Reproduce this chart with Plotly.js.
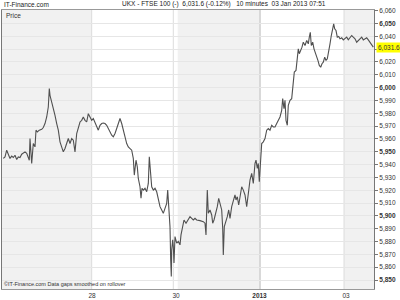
<!DOCTYPE html>
<html>
<head>
<meta charset="utf-8">
<script src="https://cdn.plot.ly/plotly-3.0.1.min.js"></script>
<style>html,body{margin:0;padding:0;background:#fff;}#chart{width:400px;height:300px;}</style>
</head>
<body>
<div id="chart"></div>
<script>
// 10-minute bars (bar position along the time axis) and price
const barIndex = [1.3,3,4.7,6.3,8,9.7,11.3,13,14.7,16.3,18,19.7,21.3,23,24.7,26.3,27.3,28,29.7,31.3,33,34,35.3,37.3,39.7,41.3,43,44.7,46.3,47.3,48,49.7,51.3,53,54.7,56.3,58,59.7,61.3,63,64.7,66.3,68,69.7,71.3,73,74.7,76.3,78,79.7,81.3,83,84.7,86.3,88,89.7,91.3,93,94.7,96.3,98,99.7,101.3,103,104.7,106.3,108,109.7,111.3,113,114.7,116.3,118,119.7,121.3,123,124.7,126.3,128,129.7,131.3,132.3,134,135.3,136.3,138,139,140,141.3,143,144.7,146.3,147.3,148.7,149.7,151.3,153,154.7,156.3,158,159.7,161.3,163,164.7,165.7,167,168,168.7,169.3,169.7,170.7,171.3,172,173,174.7,176.3,178,179,180.7,182,184,186.3,188,189.7,191.3,193,194.7,198,201.3,203,204,204.7,205.3,206.3,208,209.7,210.7,212,214,215.3,216.7,218,219.7,220.7,221.3,222.3,224,225.3,226.7,228,229.7,231.3,233,234,235.3,236.7,238,239.7,241.3,243,244.7,246.3,248,249.7,251.3,253,254,255.3,256.3,257.3,258.7,259.7,261.3,263,264.7,266.3,268,269.7,271.3,273,274.7,276.3,278,279.7,280.7,282,283,284,285.3,286.3,288,289.7,290.7,291.3,292.3,294,295.3,296.3,297.3,298.7,300,301.3,303,304.7,306.3,307.3,308.3,309.3,310.7,312,313.3,314.7,316,317.3,318.7,320,321.3,322.7,324,325.3,326.7,328,329.3,330.7,331.7,332.7,334,335.3,336.7,338,339.7,341.3,343,344.7,346.3,348,349.7,351.3,353,354.7,356.3,358,359.7,361.3,363,364.7,366.3,368,369.7,371.3];
const closePrice = [5944.8,5946.0,5951.2,5947.3,5944.8,5946.6,5945.5,5947.3,5944.0,5946.0,5945.5,5948.1,5949.1,5949.9,5948.7,5945.5,5943.4,5960.3,5940.9,5956.4,5953.8,5966.8,5965.4,5966.8,5967.5,5968.9,5972.0,5977.1,5984.9,5999.2,5994.0,5988.7,5982.3,5978.4,5972.0,5966.8,5957.7,5953.8,5949.9,5952.5,5957.7,5960.3,5956.4,5960.3,5959.0,5949.9,5964.2,5969.3,5973.2,5974.5,5977.1,5974.5,5973.2,5979.7,5977.1,5974.5,5975.9,5973.2,5969.3,5966.8,5970.6,5972.0,5972.4,5972.0,5970.6,5968.1,5965.4,5962.9,5961.6,5964.2,5968.1,5972.0,5975.9,5972.0,5966.8,5961.6,5956.4,5953.8,5952.8,5951.2,5944.8,5931.8,5943.4,5938.2,5929.2,5922.7,5913.7,5921.5,5920.1,5921.5,5918.8,5925.3,5946.0,5929.2,5922.7,5920.1,5921.5,5918.8,5912.4,5907.2,5904.6,5902.0,5905.9,5909.8,5920.1,5904.6,5891.6,5865.7,5852.8,5873.5,5881.3,5876.1,5863.2,5883.9,5878.7,5880.0,5877.4,5885.2,5891.6,5896.8,5894.3,5896.8,5899.4,5898.1,5896.8,5898.1,5896.8,5896.3,5895.5,5894.3,5885.2,5904.6,5920.1,5902.0,5904.6,5900.7,5894.3,5896.8,5902.0,5907.2,5913.7,5909.8,5904.6,5890.4,5869.6,5891.6,5895.5,5899.4,5904.6,5898.1,5907.2,5911.0,5916.3,5912.4,5914.9,5908.5,5914.9,5922.7,5920.1,5916.3,5907.2,5918.8,5927.9,5933.1,5925.3,5940.9,5943.4,5937.0,5940.9,5926.6,5951.2,5956.4,5957.7,5960.3,5966.8,5968.1,5966.8,5970.6,5969.3,5969.3,5972.0,5974.5,5977.1,5982.3,5991.4,5983.6,5990.1,5974.5,5970.6,5986.2,5990.1,5991.4,6000.4,6005.6,6012.1,6013.4,6021.1,6030.2,6026.4,6028.9,6031.5,6035.4,6032.8,6036.7,6034.1,6039.3,6043.1,6032.8,6035.4,6030.2,6027.6,6023.7,6021.1,6017.3,6015.9,6018.6,6019.8,6023.7,6021.1,6022.5,6027.6,6034.1,6040.6,6045.8,6049.7,6045.8,6044.5,6039.3,6039.8,6038.0,6038.8,6037.2,6038.0,6039.3,6037.2,6038.8,6040.6,6039.3,6038.0,6035.4,6036.7,6038.0,6039.3,6037.2,6038.0,6038.8,6037.2,6035.4,6034.1,6031.6];

// x-axis day labels
const dayLabelPos = [90, 174, 257.5, 344];
const dayLabels = ['28', '30', '<b>2013</b>', '03'];
// session boundaries and shaded sessions
const dayLines = [89.7, 171.3, 258, 342];
const dayLineColors = ['#dcdcdc', '#dcdcdc', '#b4b4b4', '#dcdcdc'];
const shadedStart = [0, 175.7, 342];
const shadedEnd = [89.7, 257.3, 372];

// y-axis ticks (6,030 label is covered by the last-price box)
const yTickVals = [5850,5860,5870,5880,5890,5900,5910,5920,5930,5940,5950,5960,5970,5980,5990,6000,6010,6020,6030,6040,6050,6060];
const yTickText = ['<b>5,850</b>','5,860','5,870','5,880','5,890','<b>5,900</b>','5,910','5,920','5,930','5,940','<b>5,950</b>','5,960','5,970','5,980','5,990','<b>6,000</b>','6,010','6,020','','6,040','<b>6,050</b>','6,060'];

const lastPrice = 6031.6;
const lastPriceText = '6,031.6';
const headerLeft = 'IT-Finance.com';
const headerMain = 'UKX - FTSE 100 (-)&nbsp;&nbsp;6,031.6 (-0.12%)&nbsp;&nbsp;&nbsp;10 minutes&nbsp;&nbsp;03 Jan 2013 07:51';
const panelLabel = 'Price';
const footer = '©IT-Finance.com Data gaps smoothed on rollover';

const FONT = 'Liberation Sans, Arial, sans-serif';

const shapes = [];
for (let i = 0; i < shadedStart.length; i++) {
  shapes.push({type:'rect', xref:'x', yref:'paper', x0:shadedStart[i], x1:shadedEnd[i], y0:0, y1:1,
    fillcolor:'#f1f1f1', line:{width:0}, layer:'below'});
}
for (let i = 0; i < dayLines.length; i++) {
  shapes.push({type:'line', xref:'x', yref:'paper', x0:dayLines[i], x1:dayLines[i], y0:0, y1:1,
    line:{color:dayLineColors[i], width:1}, layer:'below'});
}

const trace = {
  x: barIndex, y: closePrice, type:'scatter', mode:'lines',
  line:{color:'#505050', width:1.1}, hoverinfo:'skip'
};

const layout = {
  width:400, height:300,
  margin:{l:2, r:26, t:10, b:11, pad:0},
  paper_bgcolor:'#ffffff', plot_bgcolor:'#ffffff',
  showlegend:false,
  font:{family:FONT, size:6.5, color:'#333'},
  xaxis:{range:[0,372], tickmode:'array', tickvals:dayLabelPos, ticktext:dayLabels,
    showgrid:false, zeroline:false, showline:true, mirror:true, linecolor:'#999', linewidth:1,
    ticks:'', tickfont:{family:FONT, size:6.5, color:'#333'}, fixedrange:true},
  yaxis:{range:[5843,6060.5], side:'right', tickmode:'array', tickvals:yTickVals, ticktext:yTickText,
    showgrid:true, gridcolor:'#e6e6e6', gridwidth:1, zeroline:false,
    showline:true, mirror:true, linecolor:'#777', linewidth:1,
    ticks:'outside', ticklen:3, tickcolor:'#777', tickfont:{family:FONT, size:6.5, color:'#333'}, fixedrange:true},
  shapes: shapes,
  annotations:[
    {xref:'paper', yref:'paper', x:0, y:1, xanchor:'left', yanchor:'bottom', showarrow:false,
      text:headerLeft, font:{family:FONT, size:6.5, color:'#222'}},
    {xref:'paper', yref:'paper', x:0.597, y:1, xanchor:'center', yanchor:'bottom', showarrow:false,
      text:headerMain, font:{family:FONT, size:6.5, color:'#222'}},
    {xref:'paper', yref:'paper', x:0, y:1, xanchor:'left', yanchor:'top', showarrow:false,
      text:panelLabel, font:{family:FONT, size:6.5, color:'#333'}, xshift:2},
    {xref:'paper', yref:'paper', x:0, y:0, xanchor:'left', yanchor:'bottom', showarrow:false,
      text:footer, font:{family:FONT, size:5.5, color:'#333'}},
    {xref:'paper', yref:'y', x:1, y:lastPrice, xanchor:'left', yanchor:'middle', showarrow:false,
      text:lastPriceText, bgcolor:'#ffff00', borderpad:1, xshift:2,
      font:{family:FONT, size:6.5, color:'#333'}}
  ]
};

Plotly.newPlot('chart', [trace], layout, {staticPlot:true, displayModeBar:false});
</script>
</body>
</html>
